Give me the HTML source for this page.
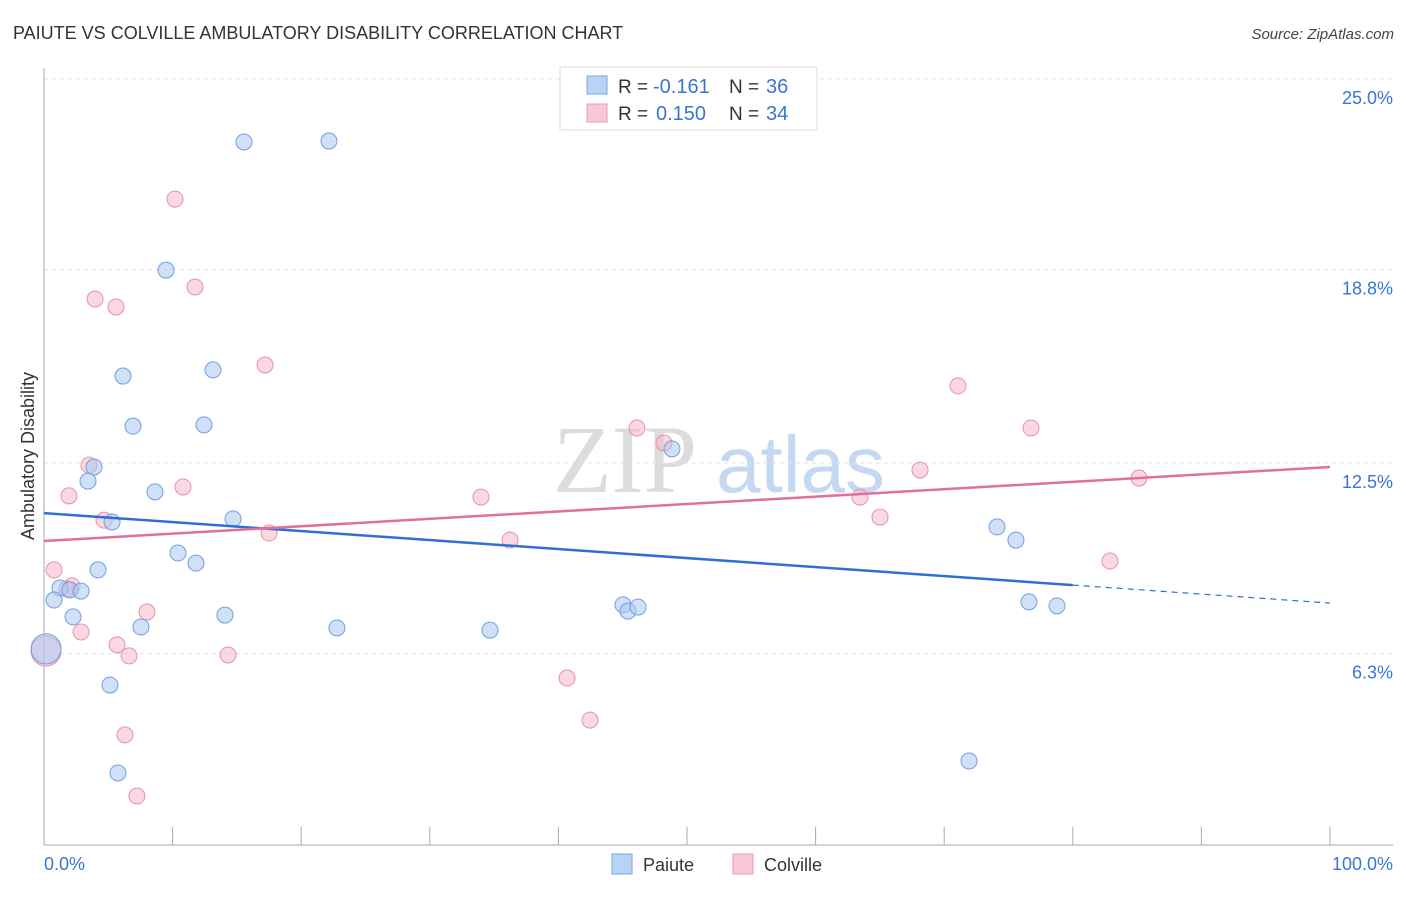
<!DOCTYPE html>
<html><head><meta charset="utf-8"><style>
body{margin:0;background:#fff;font-family:"Liberation Sans",sans-serif;}
svg text{font-family:"Liberation Sans",sans-serif;}
</style></head><body>
<svg id="chart" width="1406" height="892" xmlns="http://www.w3.org/2000/svg">
<text x="13" y="39" font-size="18" fill="#333">PAIUTE VS COLVILLE AMBULATORY DISABILITY CORRELATION CHART</text>
<text x="1394" y="39" font-size="15" fill="#444" text-anchor="end" font-style="italic">Source: ZipAtlas.com</text>
<g>
<text x="553" y="492" font-size="96" fill="#dcdcdc" style="font-family:'Liberation Serif',serif">ZIP</text>
<text x="716" y="492" font-size="80" fill="#c5d8f1">atlas</text>
</g>
<g id="grid"></g>
<line x1="44" y1="68" x2="44" y2="845" stroke="#aaa"/>
<line x1="44" y1="845" x2="1393" y2="845" stroke="#aaa"/>
<g id="xticks"></g>
<text transform="translate(34,456) rotate(-90)" font-size="18" fill="#333" text-anchor="middle">Ambulatory Disability</text>
<text x="44" y="870" font-size="18" fill="#3a75d4">0.0%</text>
<text x="1393" y="870" font-size="18" fill="#3a75d4" text-anchor="end">100.0%</text>
<g id="points"></g>
<g id="lines"></g>
<g>
<rect x="560" y="67" width="257" height="63" fill="#fff" stroke="#ddd"/>
<rect x="587" y="76" width="20" height="18" fill="#b9d3f5" stroke="#7aa6e3"/>
<rect x="587" y="104" width="20" height="18" fill="#f9c8d7" stroke="#eb9ab4"/>
<text x="618" y="93" font-size="19" fill="#333">R =</text>
<text x="653" y="93" font-size="20" fill="#3a75d4">-0.161</text>
<text x="729" y="93" font-size="19" fill="#333">N =</text>
<text x="766" y="93" font-size="20" fill="#3a75d4">36</text>
<text x="618" y="120" font-size="19" fill="#333">R =</text>
<text x="656" y="120" font-size="20" fill="#3a75d4">0.150</text>
<text x="729" y="120" font-size="19" fill="#333">N =</text>
<text x="766" y="120" font-size="20" fill="#3a75d4">34</text>
</g>
<g>
<rect x="612" y="854" width="20" height="20" fill="#b9d3f5" stroke="#7aa6e3"/>
<text x="643" y="871" font-size="18" fill="#333">Paiute</text>
<rect x="733" y="854" width="20" height="20" fill="#f9c8d7" stroke="#eb9ab4"/>
<text x="764" y="871" font-size="18" fill="#333">Colville</text>
</g>
</svg>
<script>
const yTicks=[25.0,18.8,12.5,6.3];
const yTickLabels=["25.0%","18.8%","12.5%","6.3%"];
const xTicks=[0,10,20,30,40,50,60,70,80,90,100];
const paiuteX=[15.55,22.16,9.49,6.14,13.14,6.92,12.44,3.89,3.42,8.63,5.29,14.70,10.42,11.82,4.20,1.24,2.02,2.88,0.78,2.26,14.07,7.54,22.78,34.68,45.02,45.41,46.19,48.83,74.11,75.58,76.59,78.77,5.13,5.75,71.93,0.16];
const paiuteY=[22.95,22.98,18.78,15.33,15.53,13.70,13.74,12.37,11.91,11.56,10.58,10.68,9.57,9.24,9.02,8.43,8.37,8.33,8.04,7.49,7.55,7.16,7.13,7.06,7.88,7.68,7.81,12.96,10.42,9.99,7.98,7.85,5.27,2.41,2.80,6.45];
const colvilleX=[10.19,3.97,5.60,11.74,17.19,3.50,1.94,10.81,4.67,17.50,0.78,2.18,1.79,8.01,2.88,5.68,6.61,14.31,6.30,7.23,33.98,36.24,40.67,42.46,46.11,48.21,63.45,65.01,68.12,71.07,76.75,85.15,82.89,0.16];
const colvilleY=[21.09,17.84,17.58,18.23,15.69,12.43,11.43,11.72,10.64,10.22,9.02,8.50,8.40,7.65,7.00,6.58,6.22,6.25,3.65,1.66,11.39,9.99,5.50,4.13,13.64,13.15,11.39,10.74,12.27,15.01,13.64,12.01,9.31,6.38];
const paiuteTrend=[10.87,7.94];
const colvilleTrend=[9.96,12.37];
const sx=v=>44+v*12.86;
const sy=v=>847-v*30.72;
const NS="http://www.w3.org/2000/svg";
function mk(t,a,p){const e=document.createElementNS(NS,t);for(const k in a)e.setAttribute(k,a[k]);p.appendChild(e);return e;}
const grid=document.getElementById('grid');
yTicks.forEach((v,i)=>{
 const l=mk('line',{x1:44,x2:1393,y1:sy(v),y2:sy(v),stroke:'#e2e2e2','stroke-dasharray':'4,4'},grid);
 
 
 const t=mk('text',{x:1393,y:sy(v)+25,'font-size':18,fill:'#3a75d4','text-anchor':'end'},grid);
 t.textContent=yTickLabels[i];
 
 
});
const xt=document.getElementById('xticks');
xTicks.forEach(v=>{
 const l=mk('line',{x1:sx(v),x2:sx(v),y1:827,y2:845,stroke:'#aaa'},xt);
 
 
});
const pts=document.getElementById('points');
function drawPts(X,Y,fill,stroke,name){
 X.forEach((x,i)=>{
  const big=(i===X.length-1);
  const c=mk('circle',{cx:sx(x),cy:sy(Y[i]),r:big?15:8,fill:fill,'fill-opacity':0.55,stroke:stroke,'stroke-width':1},pts);
  
  
 });
}
drawPts(colvilleX,colvilleY,'#f6b8cb','#e890ab','colville-point');
drawPts(paiuteX,paiuteY,'#a9c8f0','#6f9fe0','paiute-point');
const ln=document.getElementById('lines');
const ty=(tr,x)=>tr[0]+(tr[1]-tr[0])*x/100;
let a=mk('line',{x1:sx(0),y1:sy(ty(paiuteTrend,0)),x2:sx(80),y2:sy(ty(paiuteTrend,80)),stroke:'#2f6fd6','stroke-width':2.5},ln);


a=mk('line',{x1:sx(80),y1:sy(ty(paiuteTrend,80)),x2:sx(100),y2:sy(ty(paiuteTrend,100)),stroke:'#2f6fd6','stroke-width':1.2,'stroke-dasharray':'6,5'},ln);


a=mk('line',{x1:sx(0),y1:sy(ty(colvilleTrend,0)),x2:sx(100),y2:sy(ty(colvilleTrend,100)),stroke:'#e0709a','stroke-width':2.5},ln);


</script>
</body></html>
